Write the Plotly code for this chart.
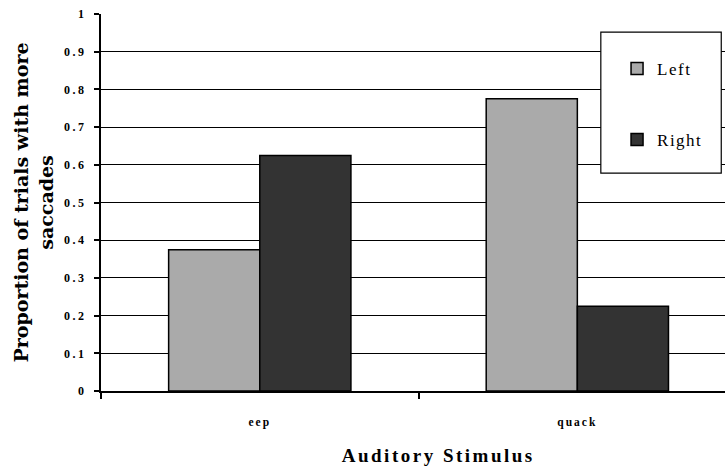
import plotly.graph_objects as go

# Data
categories = ["eep", "quack"]
left_vals = [0.375, 0.775]
right_vals = [0.625, 0.225]
y_tick_vals = [0, 0.1, 0.2, 0.3, 0.4, 0.5, 0.6, 0.7, 0.8, 0.9, 1]
y_tick_text = ["0", "0.1", "0.2", "0.3", "0.4", "0.5", "0.6", "0.7", "0.8", "0.9", "1"]
x_title = "Auditory Stimulus"
y_title = "Proportion of trials with more<br>saccades"

SERIF = "Liberation Serif, Times New Roman, serif"
WIDE_SERIF = "DejaVu Serif, serif"

fig = go.Figure()
fig.add_trace(go.Bar(
    x=categories, y=left_vals, name="Left",
    marker=dict(color="#aaaaaa", line=dict(color="black", width=1.5)),
    legendgroup="a",
))
fig.add_trace(go.Bar(
    x=categories, y=right_vals, name="Right",
    marker=dict(color="#333333", line=dict(color="black", width=1.5)),
    legendgroup="b",
))

# legend frame
fig.add_shape(type="rect", xref="paper", yref="paper",
              x0=0.801, x1=0.994, y0=0.578, y1=0.952,
              fillcolor="white", line=dict(color="black", width=1.2),
              layer="above")

# category-axis title, set slightly right of the plot centre
fig.add_annotation(
    text="<b>" + x_title + "</b>", xref="paper", yref="paper",
    x=0.54, y=-0.172, xanchor="center", yanchor="middle", showarrow=False,
    font=dict(family=SERIF, size=19, color="black"),
)

fig.update_layout(
    width=725, height=468,
    margin=dict(l=101, r=0, t=14, b=77),
    paper_bgcolor="white", plot_bgcolor="white",
    barmode="group", bargap=0.426, bargroupgap=0,
    font=dict(family=SERIF, color="black"),
    showlegend=True,
    legend=dict(
        x=0.827, y=0.902, xanchor="left", yanchor="top",
        bgcolor="rgba(0,0,0,0)", borderwidth=0,
        font=dict(family=SERIF, size=17, color="black"),
        traceorder="grouped", tracegroupgap=46,
    ),
    xaxis=dict(
        range=[-0.5, 1.465],
        showline=True, linecolor="black", linewidth=2,
        ticks="outside", ticklen=6, tickcolor="black", tickwidth=1.5,
        tickson="boundaries", showgrid=False,
        tickfont=dict(family=SERIF, size=11.5, color="black", weight="bold"),
        ticklabelstandoff=19,
    ),
    yaxis=dict(
        range=[0, 1], tickvals=y_tick_vals, ticktext=y_tick_text,
        showline=True, linecolor="black", linewidth=2,
        ticks="outside", ticklen=5, tickcolor="black", tickwidth=1.5,
        showgrid=True, gridcolor="black", gridwidth=1,
        zeroline=False,
        tickfont=dict(family=SERIF, size=12, color="black", weight="bold"),
        ticklabelstandoff=5,
        title=dict(text="<b>" + y_title + "</b>",
                   font=dict(family=WIDE_SERIF, size=19, color="black"),
                   standoff=13),
    ),
)

# widen the tracking of the chart's lettering
spacing_js = """
var gd = document.getElementById('{plot_id}');
function track() {
  var rules = [['.ytick text', '2.5px'], ['.xtick text', '2px'],
               ['.annotation-text', '2.5px'], ['.legendtext', '1.5px']];
  rules.forEach(function (r) {
    gd.querySelectorAll(r[0]).forEach(function (t) { t.style.letterSpacing = r[1]; });
  });
}
track();
gd.on('plotly_afterplot', track);
"""

fig.write_html("out.html", post_script=spacing_js)
